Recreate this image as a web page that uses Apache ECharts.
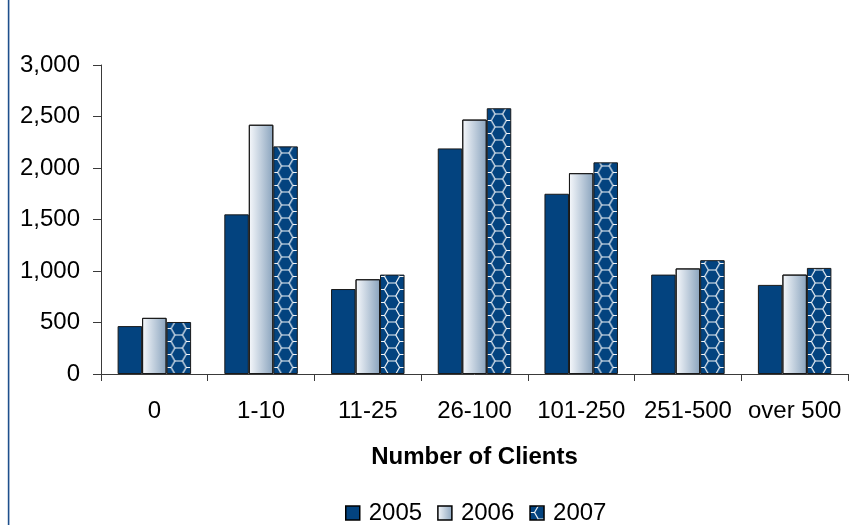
<!DOCTYPE html>
<html>
<head>
<meta charset="utf-8">
<script src="https://cdn.jsdelivr.net/npm/echarts@6/dist/echarts.min.js"></script>
<style>
  html, body { margin: 0; padding: 0; background: #fff; }
  #chart { width: 849px; height: 525px; }
</style>
</head>
<body>
<div id="chart"></div>
<script>
// Client-count buckets and yearly totals
var categories = ['0', '1-10', '11-25', '26-100', '101-250', '251-500', 'over 500'];
var years = ['2005', '2006', '2007'];
var values2005 = [465, 1550, 825, 2190, 1750, 965, 865];
var values2006 = [545, 2420, 920, 2470, 1950, 1025, 965];
var values2007 = [505, 2210, 965, 2580, 2055, 1105, 1030];
var yTicks = [0, 500, 1000, 1500, 2000, 2500, 3000];

var NAVY = '#03437f';
var FONT = '"Liberation Sans", Arial, sans-serif';

// Honeycomb tile: white hexagon outlines on navy, joined by horizontal links
function hexTile() {
  var w = 24, h = 13;
  var c = document.createElement('canvas');
  c.width = w; c.height = h;
  var g = c.getContext('2d');
  g.fillStyle = NAVY;
  g.fillRect(0, 0, w, h);
  g.strokeStyle = 'rgba(255,255,255,0.95)';
  g.lineWidth = 1.2;
  var cx = 12, cy = 6.5, r = 7.5, hh = 6.5;
  g.beginPath();
  g.moveTo(0, cy); g.lineTo(cx - r, cy);
  g.lineTo(cx - r / 2, cy - hh);
  g.lineTo(cx + r / 2, cy - hh);
  g.lineTo(cx + r, cy);
  g.lineTo(cx + r / 2, cy + hh);
  g.lineTo(cx - r / 2, cy + hh);
  g.lineTo(cx - r, cy);
  g.moveTo(cx + r, cy); g.lineTo(w, cy);
  g.stroke();
  return c;
}
var tile = hexTile();

var gradient2006 = new echarts.graphic.LinearGradient(0, 0, 1, 0, [
  { offset: 0, color: '#f7f9fc' },
  { offset: 1, color: '#89a3bd' }
]);

var chart = echarts.init(document.getElementById('chart'), null, { renderer: 'canvas' });

function buildOption(patternOffsets) {
  var data2007 = values2007.map(function (v, i) {
    var off = patternOffsets ? patternOffsets[i] : {};
    return { value: v, itemStyle: { color: { image: tile, repeat: 'repeat', x: off.x || 0, y: off.y || 0 } } };
  });
  return {
    animation: false,
    backgroundColor: '#ffffff',
    graphic: [{
      type: 'rect',
      shape: { x: 7.8, y: 0, width: 1.6, height: 525 },
      style: { fill: '#1e4f8c' },
      silent: true
    }],
    grid: { left: 101, right: 1, top: 65, bottom: 151, containLabel: false },
    legend: {
      data: years,
      icon: 'rect',
      left: 340,
      top: 496,
      itemWidth: 14,
      itemHeight: 14,
      itemGap: 15,
      textStyle: { fontFamily: FONT, fontSize: 24, color: '#000', padding: [0, 0, 0, 4] },
      itemStyle: { borderColor: '#000', borderWidth: 1.5 }
    },
    xAxis: {
      type: 'category',
      data: categories,
      name: 'Number of Clients',
      nameLocation: 'middle',
      nameGap: 71,
      nameTextStyle: { fontFamily: FONT, fontSize: 24, fontWeight: 'bold', color: '#000' },
      axisLine: { lineStyle: { color: '#3a3a3a', width: 1 } },
      axisTick: { show: true, length: 7, lineStyle: { color: '#3a3a3a' } },
      axisLabel: { fontFamily: FONT, fontSize: 24, color: '#000', margin: 25, interval: 0 }
    },
    yAxis: {
      type: 'value',
      min: yTicks[0],
      max: yTicks[yTicks.length - 1],
      interval: yTicks[1] - yTicks[0],
      axisLine: { show: true, lineStyle: { color: '#3a3a3a', width: 1 } },
      axisTick: { show: true, length: 8, lineStyle: { color: '#3a3a3a' } },
      splitLine: { show: false },
      axisLabel: {
        fontFamily: FONT, fontSize: 24, color: '#000', margin: 21,
        formatter: function (v) { return v.toLocaleString('en-US'); }
      }
    },
    series: [
      {
        name: years[0], type: 'bar', data: values2005,
        barWidth: 24.5, barGap: '0%',
        itemStyle: { color: NAVY, borderColor: '#1a1a1a', borderWidth: 1 }
      },
      {
        name: years[1], type: 'bar', data: values2006,
        barWidth: 24.5, barGap: '0%',
        itemStyle: { color: gradient2006, borderColor: '#1a1a1a', borderWidth: 1 }
      },
      {
        name: years[2], type: 'bar', data: data2007,
        barWidth: 24.5, barGap: '0%',
        itemStyle: { color: { image: tile, repeat: 'repeat' }, borderColor: '#1a1a1a', borderWidth: 1 }
      }
    ]
  };
}

chart.setOption(buildOption(null));

// Align the honeycomb of each 2007 bar to its own left/top edge
try {
  var seriesModel = chart.getModel().getSeriesByIndex(2);
  var d = seriesModel.getData();
  var offsets = [];
  for (var i = 0; i < d.count(); i++) {
    var lay = d.getItemLayout(i);
    offsets.push({ x: lay.x, y: lay.y });
  }
  chart.setOption(buildOption(offsets));
} catch (e) { /* keep global pattern phase */ }
</script>
</body>
</html>
